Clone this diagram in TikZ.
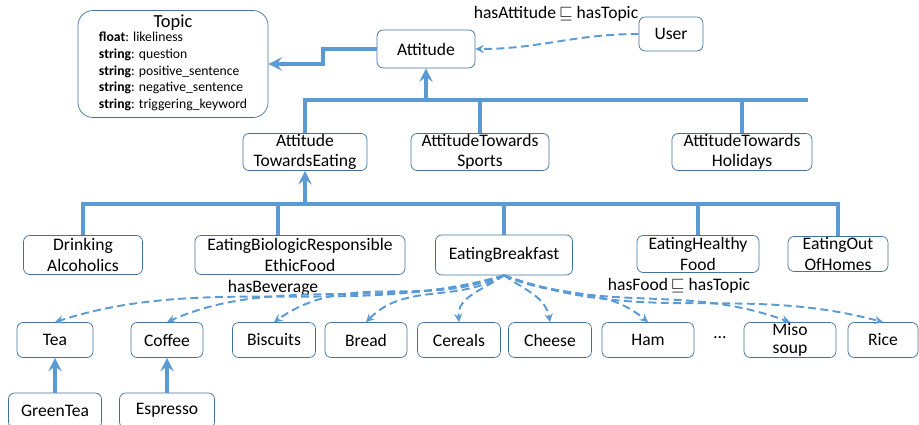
\documentclass[tikz,border=0pt]{standalone}
\usepackage{fontspec}
\setmainfont{Carlito}
\definecolor{linec}{HTML}{5B9BD5}
\definecolor{boxc}{HTML}{41719C}
\tikzset{
  cls/.style={draw=boxc, rounded corners=3.5pt, align=center, inner sep=0.5pt,
    font=\fontsize{10}{11.5}\selectfont},
  tree/.style={linec, line width=2.3pt},
  isa/.style={tree, ->},
  prop/.style={->, linec, line width=1.1pt, dash pattern=on 4.5pt off 2.5pt},
  lbl/.style={font=\fontsize{10}{12}\selectfont}
}
\begin{document}
\begin{tikzpicture}[x=0.02cm, y=0.02cm, >=stealth]
\useasboundingbox (0,0) rectangle (919,425);
% top part
\node[cls, rounded corners=8.5pt, minimum width=3.8cm, minimum height=2.14cm] (topic) at (173,361)
  {\fontsize{10.5}{12}\selectfont Topic\\[-1pt]
   \fontsize{7.8}{9.5}\selectfont
   \begin{tabular}{@{}l@{}}
   \textbf{float}: likeliness\\
   \textbf{string}: question\\
   \textbf{string}: positive\_sentence\\
   \textbf{string}: negative\_sentence\\
   \textbf{string}: triggering\_keyword
   \end{tabular}};
\node[cls, minimum width=1.96cm, minimum height=0.76cm] (att) at (426,376) {Attitude};
\node[cls, minimum width=1.28cm, minimum height=0.68cm] (user) at (671,391) {User};
\node[lbl] (hasatt) at (556,411) {hasAttitude\,$\sqsubseteq$ hasTopic};
\draw[prop] (user.west) to[out=180, in=0] (att.east);
\draw[isa] (att.west) -- ++(-54,0) |- (topic.east);
% attitudes
\node[cls, minimum width=2.48cm, minimum height=0.74cm] (ate) at (305,273) {Attitude\\TowardsEating};
\node[cls, minimum width=2.76cm, minimum height=0.74cm] (ats) at (480,273) {AttitudeTowards\\Sports};
\node[cls, minimum width=2.8cm, minimum height=0.74cm] (ath) at (742,273) {AttitudeTowards\\Holidays};
\coordinate (b1) at (426,325);
\coordinate (b1e) at (808,325);
\draw[tree] (ate.north) |- (b1e);
\draw[tree] (ats.north) -- (ats.north |- b1);
\draw[tree] (ath.north) -- (ath.north |- b1);
\draw[isa] (b1) -- (att.south);
% eating
\node[cls, minimum width=2.38cm, minimum height=0.78cm] (da) at (83,170) {Drinking\\Alcoholics};
\node[cls, minimum width=4.2cm, minimum height=0.78cm] (ebr) at (300,170) {EatingBiologicResponsible\\EthicFood};
\node[cls, minimum width=2.74cm, minimum height=0.8cm] (eb) at (504,170) {EatingBreakfast};
\node[cls, minimum width=2.44cm, minimum height=0.74cm] (ehf) at (698,171) {EatingHealthy\\Food};
\node[cls, minimum width=2cm, minimum height=0.7cm] (eoh) at (838,171) {EatingOut\\OfHomes};
\coordinate (b2) at (305,221);
\draw[tree] (da.north) |- (eoh.north |- b2) -- (eoh.north);
\draw[tree] ([xshift=-0.44cm]ebr.north) -- ([xshift=-0.44cm]ebr.north |- b2);
\draw[tree] (eb.north) -- (eb.north |- b2);
\draw[tree] (ehf.north) -- (ehf.north |- b2);
\draw[isa] (b2) -- (ate.south);
% breakfast items
\node[cls, minimum width=1.52cm, minimum height=0.7cm] (tea) at (55,85) {Tea};
\node[cls, minimum width=1.44cm, minimum height=0.7cm] (coffee) at (167,85) {Coffee};
\node[cls, minimum width=1.66cm, minimum height=0.7cm] (biscuits) at (274,85) {Biscuits};
\node[cls, minimum width=1.64cm, minimum height=0.7cm] (bread) at (366,85) {Bread};
\node[cls, minimum width=1.66cm, minimum height=0.7cm] (cereals) at (459,85) {Cereals};
\node[cls, minimum width=1.66cm, minimum height=0.7cm] (cheese) at (550,85) {Cheese};
\node[cls, minimum width=1.84cm, minimum height=0.7cm] (ham) at (648,85) {Ham};
\node[lbl] (dots) at (720,87) {\dots};
\node[cls, minimum width=1.84cm, minimum height=0.7cm, inner sep=0pt,
  font=\fontsize{10}{10}\selectfont] (miso) at (790,85) {Miso\\soup};
\node[cls, minimum width=1.4cm, minimum height=0.7cm] (rice) at (883,85) {Rice};
\node[cls, minimum width=1.86cm, minimum height=0.7cm] (greentea) at (55,14.5) {GreenTea};
\node[cls, minimum width=1.9cm, minimum height=0.7cm] (espresso) at (167,14.5) {Espresso};
\draw[isa] (greentea.north) -- (tea.south);
\draw[isa] (espresso.north) -- (coffee.south);
% properties
\node[lbl] (hasbev) at (273,137) {hasBeverage};
\node[lbl] (hasfood) at (679,139) {hasFood\,$\sqsubseteq$ hasTopic};
\draw[prop] (eb.south) to[out=196, in=18, looseness=0.9] (tea.north);
\draw[prop] (eb.south) to[out=198, in=24, looseness=0.9] (coffee.north);
\draw[prop] (eb.south) to[out=202, in=35] (biscuits.north);
\draw[prop] (eb.south) to[out=210, in=45] (bread.north);
\draw[prop] (eb.south) to[out=215, in=95] (cereals.north);
\draw[prop] (eb.south) to[out=-35, in=100] (cheese.north);
\draw[prop] (eb.south) to[out=-25, in=140] (ham.north);
\draw[prop] (eb.south) to[out=-20, in=160] (miso.north);
\draw[prop] (eb.south) to[out=-20, in=165] (rice.north);
\end{tikzpicture}
\end{document}
